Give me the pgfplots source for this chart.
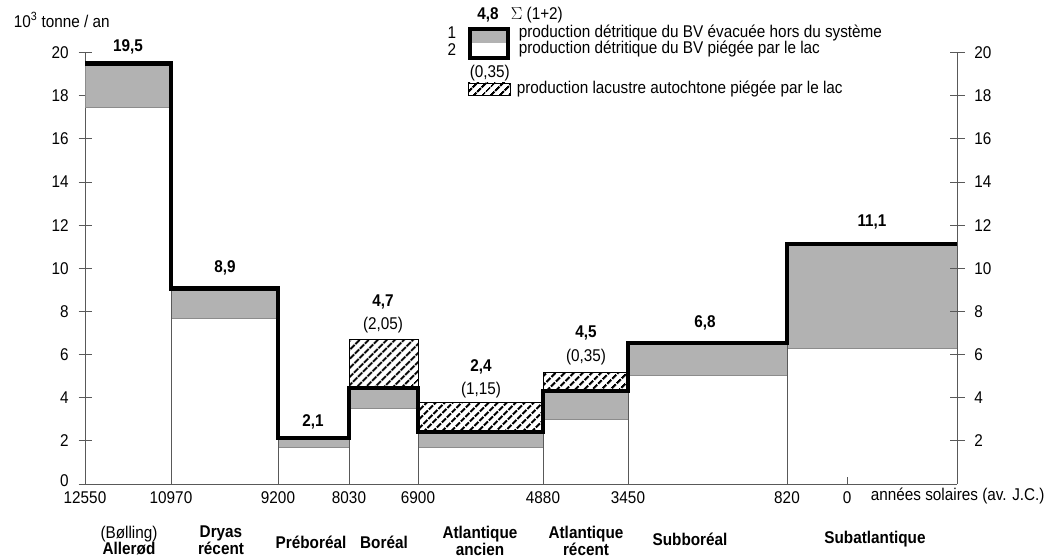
\documentclass[border=0pt]{standalone}
\usepackage{fontspec}
\setmainfont{Liberation Sans}[FakeStretch=0.9]
\usepackage{pgfplots}
\usepackage{pgfplotstable}
\pgfplotsset{compat=1.18}
\usetikzlibrary{patterns.meta}

% step line of the total (1+2): x position (drawing units), value
\pgfplotstableread{
x top
0 19.5
86 9.05
193 2.13
264 4.45
333 2.41
458 4.31
543 6.54
702 11.13
872 11.13
}\steptable

\definecolor{stipple}{gray}{0.70}
\definecolor{axgray}{gray}{0.35}

\begin{document}
\fontsize{17}{20}\selectfont
\begin{tikzpicture}[x=1pt,y=1pt]
\useasboundingbox (0,0) rectangle (1053,558);

\begin{axis}[
  at={(85pt,74pt)}, anchor=south west,
  scale only axis, width=872pt, height=431.4pt,
  xmin=0, xmax=872, ymin=0, ymax=20,
  clip=false,
  axis y line*=left, axis x line*=bottom,
  axis line style={axgray, line width=0.8pt},
  ytick={2,4,...,20},
  extra y ticks={0},
  extra y tick style={yticklabel style={yshift=3pt}},
  ytick style={axgray, line width=0.8pt},
  y tick label style={/pgf/number format/assume math mode=true, xshift=-4pt},
  ytick align=center, major tick length=13pt,
  xtick={0,86,193,264,333,458,543,702,762},
  xticklabels={12550,10970,9200,8030,6900,4880,3450,820,0},
  xtick style={draw=none},
  x tick label style={yshift=-2pt},
]
% gray boxes: production evacuee hors du systeme (1)
\addplot[fill=stipple, draw=black!45, line width=0.5pt] coordinates {(0,17.48) (86,17.48) (86,19.5) (0,19.5)} -- cycle;
\addplot[fill=stipple, draw=black!45, line width=0.5pt] coordinates {(86,7.70) (193,7.70) (193,9.05) (86,9.05)} -- cycle;
\addplot[fill=stipple, draw=black!45, line width=0.5pt] coordinates {(193,1.72) (264,1.72) (264,2.13) (193,2.13)} -- cycle;
\addplot[fill=stipple, draw=black!45, line width=0.5pt] coordinates {(264,3.52) (333,3.52) (333,4.45) (264,4.45)} -- cycle;
\addplot[fill=stipple, draw=black!45, line width=0.5pt] coordinates {(333,1.72) (458,1.72) (458,2.41) (333,2.41)} -- cycle;
\addplot[fill=stipple, draw=black!45, line width=0.5pt] coordinates {(458,3.01) (543,3.01) (543,4.31) (458,4.31)} -- cycle;
\addplot[fill=stipple, draw=black!45, line width=0.5pt] coordinates {(543,5.05) (702,5.05) (702,6.54) (543,6.54)} -- cycle;
\addplot[fill=stipple, draw=black!45, line width=0.5pt] coordinates {(702,6.30) (872,6.30) (872,11.13) (702,11.13)} -- cycle;
% hatched boxes: production lacustre autochtone
\addplot[pattern={Lines[angle=45,distance=6.5pt,line width=2.3pt]}, draw=black, line width=0.8pt] coordinates {(264,4.45) (333,4.45) (333,6.72) (264,6.72)} -- cycle;
\addplot[pattern={Lines[angle=45,distance=6.5pt,line width=2.3pt]}, draw=black, line width=0.8pt] coordinates {(333,2.41) (458,2.41) (458,3.76) (333,3.76)} -- cycle;
\addplot[pattern={Lines[angle=45,distance=6.5pt,line width=2.3pt]}, draw=black, line width=0.8pt] coordinates {(458,4.31) (543,4.31) (543,5.19) (458,5.19)} -- cycle;
% thin period boundaries
\addplot[ycomb, axgray, line width=0.7pt, no marks] coordinates {(86,9.05) (193,2.13) (264,2.13) (333,2.41) (458,2.41) (543,4.31) (702,6.54)};
% total (1+2)
\addplot[const plot, black, line width=4.6pt, line join=miter, no marks] table[x=x,y=top] {\steptable};

% small tick at year 0
\draw[axgray, line width=0.8pt] (axis cs:762,0) -- ++(0,7pt);

% value labels
\node[font=\bfseries] at (axis cs:43,20.26) {19,5};
\node[font=\bfseries] at (axis cs:140,10.01) {8,9};
\node[font=\bfseries] at (axis cs:228,2.87) {2,1};
\node[font=\bfseries] at (axis cs:298,8.44) {4,7};
\node at (axis cs:298,7.37) {(2,05)};
\node[font=\bfseries] at (axis cs:396,5.42) {2,4};
\node at (axis cs:396,4.36) {(1,15)};
\node[font=\bfseries] at (axis cs:501,7.00) {4,5};
\node at (axis cs:501,5.89) {(0,35)};
\node[font=\bfseries] at (axis cs:620,7.46) {6,8};
\node[font=\bfseries] at (axis cs:787,12.15) {11,1};

% period names
\node[align=center, font=\fontsize{17}{15.5}\selectfont] at (axis cs:44,-2.62) {(Bølling)\\\textbf{Allerød}};
\node[align=center, font=\fontsize{17}{15.5}\selectfont\bfseries] at (axis cs:136,-2.62) {Dryas\\récent};
\node[font=\bfseries] at (axis cs:226,-2.72) {Préboréal};
\node[font=\bfseries] at (axis cs:299,-2.72) {Boréal};
\node[align=center, font=\fontsize{17}{15.5}\selectfont\bfseries] at (axis cs:395,-2.62) {Atlantique\\ancien};
\node[align=center, font=\fontsize{17}{15.5}\selectfont\bfseries] at (axis cs:501,-2.62) {Atlantique\\récent};
\node[font=\bfseries] at (axis cs:605,-2.55) {Subboréal};
\node[font=\bfseries] at (axis cs:790,-2.55) {Subatlantique};
\node[anchor=west] at (axis cs:780,-0.55) {années solaires (av. J.C.)};
\end{axis}

\begin{axis}[
  at={(85pt,74pt)}, anchor=south west,
  scale only axis, width=872pt, height=431.4pt,
  xmin=0, xmax=872, ymin=0, ymax=20,
  axis y line*=right, axis x line=none,
  axis line style={axgray, line width=0.8pt},
  ytick={2,4,...,20},
  ytick style={axgray, line width=0.8pt},
  y tick label style={/pgf/number format/assume math mode=true, xshift=4pt},
  ytick align=center, major tick length=15pt,
]
\end{axis}

% y unit
\node[anchor=west] at (8,538) {10\textsuperscript{3} tonne / an};

% legend
\node[font=\bfseries] at (488,543) {4,8};
\node[anchor=west] at (505,543) {$\Sigma$ (1+2)};
\node at (452,525) {1};
\node at (452,508) {2};
\fill[stipple] (470,529) rectangle (508,514.5);
\draw[black, line width=4pt] (470,529) rectangle (508,500);
\node[anchor=west] at (513,525) {production détritique du BV évacuée hors du système};
\node[anchor=west] at (513,509) {production détritique du BV piégée par le lac};
\node[anchor=west] at (464,485) {(0,35)};
\draw[pattern={Lines[angle=45,distance=6.5pt,line width=2.3pt]}, line width=0.6pt] (468,475) rectangle (510,463);
\node[anchor=west] at (511,469) {production lacustre autochtone piégée par le lac};
\end{tikzpicture}
\end{document}
